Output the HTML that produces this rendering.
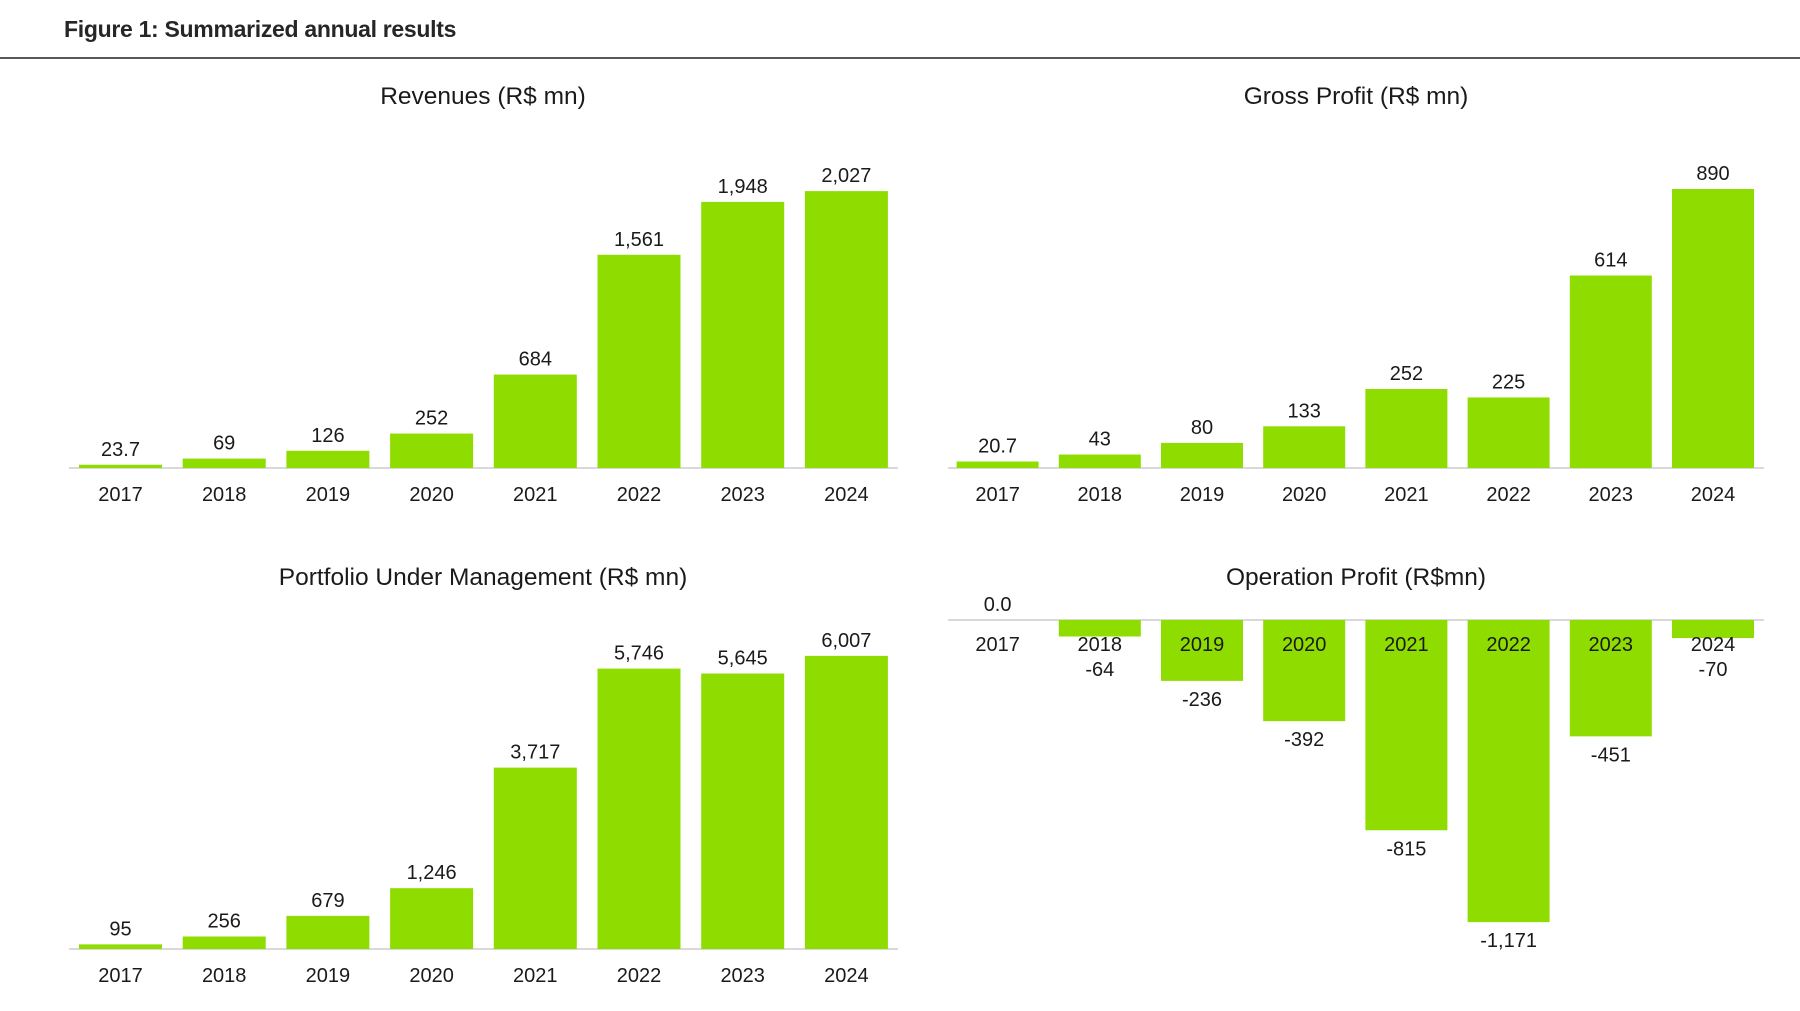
<!DOCTYPE html>
<html>
<head>
<meta charset="utf-8">
<style>
  html,body{margin:0;padding:0;background:#fff;}
  body{width:1800px;height:1011px;overflow:hidden;position:relative;font-family:"Liberation Sans",Arial,sans-serif;}
  #fig-title{position:absolute;left:64px;top:16px;font-size:23px;font-weight:bold;color:#262626;letter-spacing:-0.3px;}
  #rule{position:absolute;left:0;top:57px;width:1800px;height:2px;background:#595959;}
  svg{position:absolute;left:0;top:0;}
  text{font-family:"Liberation Sans",Arial,sans-serif;fill:#1a1a1a;}
</style>
</head>
<body>
<div id="fig-title">Figure 1: Summarized annual results</div>
<div id="rule"></div>
<svg id="chart" width="1800" height="1011"></svg>
<script>
const years = ["2017","2018","2019","2020","2021","2022","2023","2024"];
const revenueValues = [23.7, 69, 126, 252, 684, 1561, 1948, 2027];
const revenueLabels = ["23.7","69","126","252","684","1,561","1,948","2,027"];
const grossValues = [20.7, 43, 80, 133, 252, 225, 614, 890];
const grossLabels = ["20.7","43","80","133","252","225","614","890"];
const portfolioValues = [95, 256, 679, 1246, 3717, 5746, 5645, 6007];
const portfolioLabels = ["95","256","679","1,246","3,717","5,746","5,645","6,007"];
const opValues = [0, -64, -236, -392, -815, -1171, -451, -70];
const opLabels = ["0.0","-64","-236","-392","-815","-1,171","-451","-70"];

const NS = "http://www.w3.org/2000/svg";
const svg = document.getElementById("chart");
function mk(tag, attrs, parent){
  const e = document.createElementNS(NS, tag);
  for (const k in attrs) e.setAttribute(k, attrs[k]);
  (parent||svg).appendChild(e);
  return e;
}

function drawChart(cfg){
  const g = mk("g", {});
  
  
  const t = mk("text", {x: cfg.titleX, y: cfg.titleY, "text-anchor":"middle", "font-size":"24.5"}, g);
  t.textContent = cfg.title;
  
  
  const x = i => cfg.x0 + cfg.step * i;
  const y = v => cfg.base - v * cfg.scale;
  const axis = mk("line", {x1: cfg.axL, x2: cfg.axR, y1: cfg.base, y2: cfg.base, stroke:"#d9d9d9", "stroke-width":"2"}, g);
  
  
  cfg.values.forEach((v, i) => {
    const top = Math.min(y(v), cfg.base), h = Math.abs(y(v) - cfg.base);
    const r = mk("rect", {x: x(i) - cfg.bw/2, y: top, width: cfg.bw, height: h, fill:"#8fdc00"}, g);
    
    
    const lbl = mk("text", {x: x(i), "text-anchor":"middle", "font-size":"20"}, g);
    if (v >= 0) lbl.setAttribute("y", y(v) - 9);
    else lbl.setAttribute("y", Math.max(y(v) + 25, cfg.yearY + 25));
    lbl.textContent = cfg.labels[i];
    
    
    const yl = mk("text", {x: x(i), y: cfg.yearY, "text-anchor":"middle", "font-size":"20"}, g);
    yl.textContent = years[i];
    
    
  });
}

drawChart({name:"revenues-chart", title:"Revenues (R$ mn)", titleX:483, titleY:104,
  values:revenueValues, labels:revenueLabels, x0:120.5, step:103.7, bw:83,
  base:468, scale:0.1366, axL:69, axR:898, yearY:501});
drawChart({name:"gross-profit-chart", title:"Gross Profit (R$ mn)", titleX:1356, titleY:104,
  values:grossValues, labels:grossLabels, x0:997.6, step:102.2, bw:82,
  base:468, scale:0.3135, axL:948, axR:1764, yearY:501});
drawChart({name:"portfolio-chart", title:"Portfolio Under Management (R$ mn)", titleX:483, titleY:585,
  values:portfolioValues, labels:portfolioLabels, x0:120.5, step:103.7, bw:83,
  base:949, scale:0.0488, axL:69, axR:898, yearY:982});
drawChart({name:"operation-profit-chart", title:"Operation Profit (R$mn)", titleX:1356, titleY:585,
  values:opValues, labels:opLabels, x0:997.6, step:102.2, bw:82,
  base:620, scale:0.258, axL:948, axR:1764, yearY:651});
</script>
</body>
</html>
